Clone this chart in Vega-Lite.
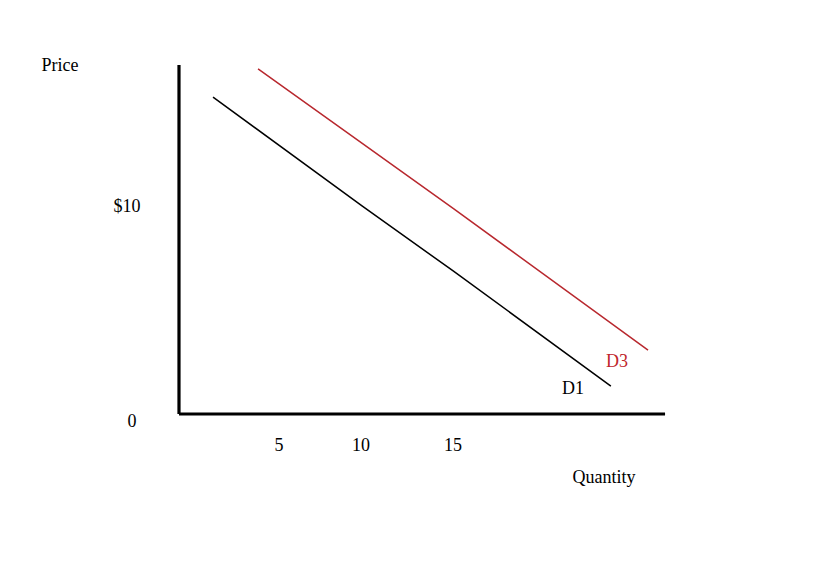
{
  "$schema": "https://vega.github.io/schema/vega-lite/v6.json",
  "width": 815,
  "height": 562,
  "padding": 0,
  "autosize": {"type": "none"},
  "background": "white",
  "config": {"view": {"stroke": null}},
  "datasets": {
    "curves": [
      {"curve": "D1", "quantity": 1.86, "price": 15.31},
      {"curve": "D1", "quantity": 10, "price": 10.05},
      {"curve": "D1", "quantity": 15, "price": 6.9},
      {"curve": "D1", "quantity": 23.6, "price": 1.35},
      {"curve": "D3", "quantity": 4.32, "price": 16.67},
      {"curve": "D3", "quantity": 15, "price": 9.92},
      {"curve": "D3", "quantity": 25.63, "price": 3.09}
    ],
    "axes": [
      {"axis": "x", "q1": 0, "p1": 0, "q2": 26.56, "p2": 0},
      {"axis": "y", "q1": 0, "p1": 0, "q2": 0, "p2": 16.86}
    ],
    "labels": [
      {"label": "Price", "quantity": -6.5, "price": 16.81, "kind": "black"},
      {"label": "$10", "quantity": -2.84, "price": 10.0, "kind": "black"},
      {"label": "0", "quantity": -2.57, "price": -0.39, "kind": "black"},
      {"label": "5", "quantity": 5.46, "price": -1.55, "kind": "black"},
      {"label": "10", "quantity": 9.95, "price": -1.55, "kind": "black"},
      {"label": "15", "quantity": 14.97, "price": -1.55, "kind": "black"},
      {"label": "Quantity", "quantity": 23.22, "price": -3.09, "kind": "black"},
      {"label": "D3", "quantity": 23.93, "price": 2.51, "kind": "red"},
      {"label": "D1", "quantity": 21.53, "price": 1.21, "kind": "black"}
    ]
  },
  "layer": [
    {
      "data": {"name": "axes"},
      "mark": {"type": "rule", "color": "black", "strokeWidth": 3.2},
      "encoding": {
        "x": {"field": "q1", "type": "quantitative", "axis": null, "scale": {"domain": [-9.781, 34.754], "nice": false, "zero": false}},
        "y": {"field": "p1", "type": "quantitative", "axis": null, "scale": {"domain": [-7.15, 20], "nice": false, "zero": false}},
        "x2": {"field": "q2"},
        "y2": {"field": "p2"}
      }
    },
    {
      "data": {"name": "curves"},
      "mark": {"type": "line", "strokeWidth": 1.5},
      "encoding": {
        "x": {"field": "quantity", "type": "quantitative", "axis": null, "scale": {"domain": [-9.781, 34.754], "nice": false, "zero": false}},
        "y": {"field": "price", "type": "quantitative", "axis": null, "scale": {"domain": [-7.15, 20], "nice": false, "zero": false}},
        "color": {"field": "curve", "type": "nominal", "legend": null, "scale": {"domain": ["D1", "D3"], "range": ["#000000", "#b8282e"]}},
        "order": {"field": "quantity", "type": "quantitative"}
      }
    },
    {
      "data": {"name": "labels"},
      "mark": {"type": "text", "font": "Liberation Serif", "fontSize": 18, "align": "center", "baseline": "middle"},
      "encoding": {
        "x": {"field": "quantity", "type": "quantitative", "axis": null, "scale": {"domain": [-9.781, 34.754], "nice": false, "zero": false}},
        "y": {"field": "price", "type": "quantitative", "axis": null, "scale": {"domain": [-7.15, 20], "nice": false, "zero": false}},
        "text": {"field": "label", "type": "nominal"},
        "fill": {"field": "kind", "type": "nominal", "legend": null, "scale": {"domain": ["black", "red"], "range": ["#000000", "#c0262c"]}}
      }
    }
  ]
}
